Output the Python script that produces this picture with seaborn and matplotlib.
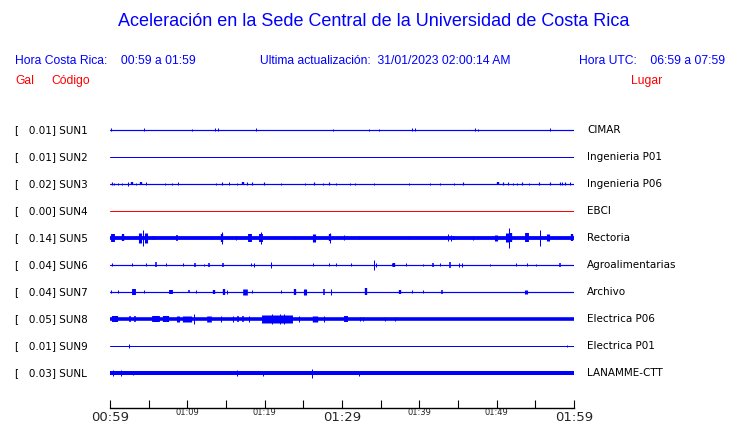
import numpy as np
import pandas as pd
import matplotlib
matplotlib.use('Agg')
import matplotlib.pyplot as plt
import matplotlib.transforms as mtransforms
import seaborn as sns

# stations, peak acceleration (Gal) and place names
codes = ['SUN1', 'SUN2', 'SUN3', 'SUN4', 'SUN5', 'SUN6', 'SUN7', 'SUN8', 'SUN9', 'SUNL']
peaks = [0.01, 0.01, 0.02, 0.00, 0.14, 0.04, 0.04, 0.05, 0.01, 0.03]
places = ['CIMAR', 'Ingenieria P01', 'Ingenieria P06', 'EBCI', 'Rectoria',
          'Agroalimentarias', 'Archivo', 'Electrica P06', 'Electrica P01', 'LANAMME-CTT']

# background noise level of each trace (half width, px)
noise = [0.6, 0.5, 0.6, 0.5, 1.9, 0.6, 0.6, 1.8, 0.5, 2.0]

# events: (minute after 00:59, half amplitude px, duration min)
sun1_ev = [(0.13, 1.5, 0), (4.43, 1.5, 0), (10.62, 1, 0), (13.55, 1.5, 0), (13.98, 1.5, 0),
           (18.92, 1.5, 0), (28.82, 1, 0), (33.46, 1, 0), (34.75, 1, 0), (39.01, 1.5, 0),
           (39.48, 1.5, 0), (47.23, 1.5, 0), (47.61, 1, 0), (56.9, 1.5, 0)]
sun2_ev = []
sun3_ev = [(0.3, 1.5, 0.15), (0.56, 1, 0), (1.08, 1, 0), (1.5, 1, 0), (2.37, 2, 0),
           (2.88, 1.5, 0.3), (3.31, 1, 0), (3.95, 1.5, 0.3), (4.6, 1.5, 0), (7.1, 1, 0),
           (8.04, 1, 0), (8.82, 1.5, 0), (13.68, 1, 0), (14.49, 1.5, 0.15), (15.35, 1.5, 0),
           (16.43, 1, 0), (17.2, 1.5, 0.3), (17.76, 1.5, 0), (18.37, 1.5, 0.15), (19.91, 1.5, 0.15),
           (22.15, 1, 0), (25.16, 1, 0), (26.37, 1.5, 0.15), (27.53, 1, 0), (28.3, 1.5, 0.15),
           (29.25, 1, 0), (30.97, 1, 0), (31.7, 1, 0), (34.1, 1, 0), (38.7, 1, 0), (41.42, 1, 0),
           (42.71, 1, 0), (44.43, 1, 0), (45.59, 1.5, 0.15), (50.2, 1.5, 0.3), (50.88, 1.5, 0.15),
           (51.48, 1.5, 0), (52.17, 1, 0), (52.69, 1, 0), (53.33, 1.5, 0.15), (54.19, 1, 0),
           (55.48, 1.5, 0.15), (56.9, 1.5, 0.15), (58.19, 1.5, 0.15), (58.49, 1.5, 0),
           (58.84, 1.5, 0.15), (59.48, 1.5, 0)]
sun4_ev = []
sun5_ev = [(0.43, 4, 0.5), (1.72, 3.5, 0.3), (3.87, 5, 0.4), (4.3, 8, 0), (4.6, 5, 0.4),
           (5.38, 1.5, 0), (5.6, 1.5, 0), (5.8, 1.5, 0), (8.6, 3, 0.2), (13.03, 1.5, 0),
           (14.54, 6, 0), (14.54, 4, 0.3), (16.34, 2, 0), (17.0, 1.5, 0), (18.06, 4, 0.5),
           (19.57, 6, 0), (19.57, 4, 0.5),
           (23.78, 1.5, 0), (26.37, 4, 0.4), (28.43, 5, 0), (28.43, 3.5, 0.3), (30.32, 2.5, 0),
           (32.26, 1.5, 0),
           (38.71, 1.5, 0), (43.66, 3.5, 0), (44.09, 3, 0), (44.5, 2, 0.2), (46.88, 2, 0),
           (49.89, 3, 0.4), (51.4, 4.5, 0.4), (51.61, 10, 0), (51.9, 4.5, 0.3), (53.98, 4.5, 0.5),
           (55.61, 8, 0), (56.65, 3.5, 0.4), (59.78, 3.5, 0.3)]
sun6_ev = [(0.3, 1.5, 0.1), (2.88, 1.5, 0), (4.6, 1.5, 0), (5.9, 2.5, 0.2), (7.3, 1.5, 0),
           (9.46, 1.5, 0), (10.97, 2, 0.2), (12.13, 1, 0), (12.77, 2, 0.2), (14.62, 2, 0.2),
           (18.28, 1.5, 0), (18.58, 2, 0), (20.77, 3, 0.1), (26.24, 1.5, 0), (28.3, 1.5, 0),
           (29.25, 1.5, 0.1), (31.18, 1.5, 0.1), (34.1, 5, 0), (34.4, 2, 0), (36.43, 1.5, 0),
           (36.77, 2, 0.3), (38.28, 1.5, 0), (40.43, 1, 0), (41.8, 2, 0.2), (42.67, 1.5, 0.1),
           (43.96, 3, 0.2), (45.16, 2, 0), (45.46, 2, 0), (49.12, 1, 0), (52.47, 1.5, 0),
           (53.89, 1.5, 0.1), (55.14, 1, 0), (58.19, 2, 0.2)]
sun7_ev = [(0.13, 1.5, 0), (0.99, 1.5, 0), (3.14, 3, 0.5), (4.39, 1.5, 0), (7.87, 2, 0.5),
           (10.24, 1.5, 0.2), (11.18, 1.5, 0.1), (13.46, 2, 0.3), (14.75, 3, 0.3), (15.18, 2, 0.1),
           (17.42, 3, 0.6), (18.4, 1.5, 0), (22.15, 1.5, 0.1), (23.87, 3, 0.3), (25.16, 3, 0.4),
           (27.66, 3, 0.2), (28.52, 3, 0.1), (33.12, 3.5, 0.3), (37.55, 2, 0.3), (39.0, 1.5, 0),
           (40.43, 1.5, 0), (42.92, 2, 0.2), (53.76, 2, 0.4)]
sun8_ev = [(0.7, 3, 0.8), (2.58, 2.5, 0.2), (3.2, 2.5, 0.2), (5.9, 3, 1.0), (7.3, 2.5, 0.8),
           (8.8, 2.5, 0.4), (9.9, 2.5, 1.2), (10.9, 5, 0), (12.8, 2.5, 0.6), (14.4, 2.5, 0.1),
           (15.9, 2.5, 0.1), (16.5, 2.5, 0.2), (17.2, 2.5, 0.2), (18.0, 2.5, 0.1), (21.6, 3.5, 4.0),
           (21.0, 4.5, 0), (22.0, 5, 0), (22.5, 4.5, 0), (24.5, 3, 0), (26.5, 3, 0.7),
           (27.7, 3, 0.1), (30.5, 2.5, 0.5), (32.3, 2, 0), (32.7, 2, 0), (35.5, 2, 0), (36.8, 1.5, 0)]
sun9_ev = [(2.45, 2, 0), (59.14, 1, 0)]
sunl_ev = [(0.43, 3, 0), (1.42, 3, 0), (3.0, 2, 0), (16.47, 3, 0), (19.78, 2.5, 0),
           (26.1, 4.5, 0), (32.2, 2.5, 0)]
events = [sun1_ev, sun2_ev, sun3_ev, sun4_ev, sun5_ev, sun6_ev, sun7_ev, sun8_ev, sun9_ev, sunl_ev]

tick_min = list(range(0, 61, 5))
tick_lab = {0: '00:59', 10: '01:09', 20: '01:19', 30: '01:29', 40: '01:39', 50: '01:49', 60: '01:59'}

sns.set_style('white')
plt.rcParams['font.family'] = ['DejaVu Sans']

W, H = 740, 423
fig = plt.figure(figsize=(W / 100, H / 100), dpi=100)
# axes in pixel layout: x 110..574, y 100..408 (top..bottom)
ax = fig.add_axes([110 / W, (H - 408) / H, 464 / W, 308 / H])
ax.set_xlim(0, 60)
ax.set_ylim(408, 100)

px = 0.72  # points per pixel at 100 dpi
min_px = 464 / 60
rows = [130 + 27 * i for i in range(len(codes))]

for i, code in enumerate(codes):
    y = rows[i]
    col = '#ff0000' if code == 'SUN4' else '#0000ff'
    sns.lineplot(x=[0, 60], y=[y, y], color=col, lw=max(1.0, 2 * noise[i]) * px, ax=ax)
    ev = events[i]
    if ev:
        t = [e[0] for e in ev]
        lo = [y - e[1] for e in ev]
        hi = [y + e[1] for e in ev]
        lw = [max(1.0, e[2] * min_px) * px for e in ev]
        ax.vlines(t, lo, hi, colors=col, linewidths=lw)

for s in ['top', 'left', 'right']:
    ax.spines[s].set_visible(False)
ax.spines['bottom'].set_color('black')
ax.spines['bottom'].set_linewidth(1.0)
ax.set_yticks([])
ax.set_xticks(tick_min)
ax.set_xticklabels([tick_lab.get(m, '') for m in tick_min])
ax.tick_params(axis='x', bottom=True, direction='in', length=6, width=0.8, color='black', pad=2)
for lab, m in zip(ax.get_xticklabels(), tick_min):
    if m in (0, 30, 60):
        lab.set_fontsize(9.5)
    else:
        lab.set_fontsize(6)
        lab.set_y(0.008)

# station labels
tr = mtransforms.blended_transform_factory(fig.transFigure, ax.transData)
for i, code in enumerate(codes):
    ax.text(15 / W, rows[i], f'[   {peaks[i]:.2f}] {code}', transform=tr,
            fontsize=7.5, va='center', ha='left', color='black')
    ax.text(587 / W, rows[i], places[i], transform=tr,
            fontsize=7.5, va='center', ha='left', color='black')

hfont = ['Liberation Sans', 'DejaVu Sans']
blue = '#0000ff'
red = '#ff0000'
fig.text(374 / W, 1 - 22 / H, 'Aceleración en la Sede Central de la Universidad de Costa Rica',
         ha='center', va='center', fontsize=13, color=blue, family=hfont)
fig.text(15 / W, 1 - 61 / H, 'Hora Costa Rica:    00:59 a 01:59', ha='left', va='center',
         fontsize=8.7, color=blue, family=hfont)
fig.text(260 / W, 1 - 61 / H, 'Ultima actualización:  31/01/2023 02:00:14 AM', ha='left',
         va='center', fontsize=8.7, color=blue, family=hfont)
fig.text(725 / W, 1 - 61 / H, 'Hora UTC:    06:59 a 07:59', ha='right', va='center',
         fontsize=8.7, color=blue, family=hfont)
fig.text(15 / W, 1 - 81 / H, 'Gal', ha='left', va='center', fontsize=8.7, color=red, family=hfont)
fig.text(51 / W, 1 - 81 / H, 'Código', ha='left', va='center', fontsize=8.7, color=red, family=hfont)
fig.text(631 / W, 1 - 81 / H, 'Lugar', ha='left', va='center', fontsize=8.7, color=red, family=hfont)

fig.savefig('out.png', dpi=100, facecolor='white')
